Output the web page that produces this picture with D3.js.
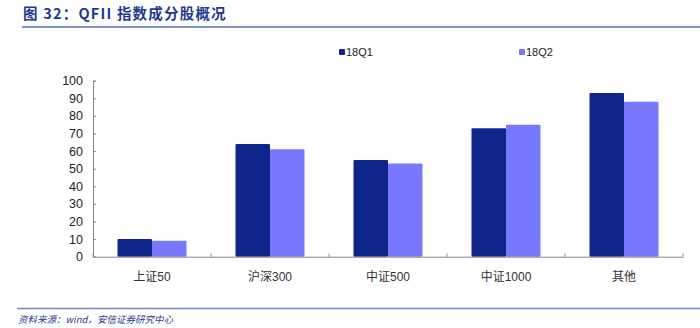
<!DOCTYPE html>
<html><head><meta charset="utf-8">
<script src="https://cdn.jsdelivr.net/npm/d3@7"></script>
<style>body{margin:0;background:#fff;} svg{display:block;}</style>
</head><body>
<script>
const categories = ["上证50","沪深300","中证500","中证1000","其他"];
const seriesNames = ["18Q1","18Q2"];
const q1Values = [10, 64, 55, 73, 93];
const q2Values = [9, 61, 53, 75, 88];
const yTicks = [0,10,20,30,40,50,60,70,80,90,100];
const colors = ["#10258c", "#7878ff"];

const W = 700, H = 328;
const svg = d3.select("body").append("svg").attr("width", W).attr("height", H);
const font = "'Liberation Sans', Arial, 'Noto Sans CJK SC', sans-serif";

// title
svg.append("text").attr("x", 23).attr("y", 18.5)
  .attr("font-family", "'Noto Sans CJK SC', sans-serif").attr("font-weight", "bold")
  .attr("font-size", 14.5).attr("letter-spacing", 1.2).attr("fill", "#1d3a8c")
  .text("图 32：QFII 指数成分股概况");
svg.append("line").attr("x1", 22).attr("x2", 700).attr("y1", 27).attr("y2", 27)
  .attr("stroke", "#5a73b5").attr("stroke-width", 1.5);

const m = {left: 93, right: 683, top: 80.7, bottom: 256.7};
const x = d3.scaleBand().domain(categories).range([m.left, m.right]);
const x1 = d3.scaleBand().domain(seriesNames).range([0, 69]);
const y = d3.scaleLinear().domain([0, 100]).range([m.bottom, m.top]);

const data = categories.map((c, i) => ({cat: c, vals: [q1Values[i], q2Values[i]]}));

const g = svg.append("g");
data.forEach(d => {
  d.vals.forEach((v, j) => {
    const bx = x(d.cat) + (x.bandwidth() - 69) / 2 + x1(seriesNames[j]);
    g.append("rect").attr("x", bx).attr("y", y(v))
      .attr("width", x1.bandwidth()).attr("height", y(0) - y(v))
      .attr("fill", colors[j]).attr("rx", 1);
  });
});

// y axis
const yAxis = d3.axisLeft(y).tickValues(yTicks).tickSize(-3).tickPadding(10);
const ya = svg.append("g").attr("transform", `translate(${m.left},0)`).call(yAxis);
ya.select(".domain").attr("stroke", "#888");
ya.selectAll(".tick line").attr("stroke", "#888");
ya.selectAll(".tick text").attr("font-family", font).attr("font-size", 12.5).attr("fill", "#222");

// x axis
const xAxis = d3.axisBottom(x).tickSize(0).tickPadding(16);
const xa = svg.append("g").attr("transform", `translate(0,${m.bottom})`).call(xAxis);
xa.select(".domain").attr("stroke", "#888");
xa.selectAll(".tick text").attr("font-family", font).attr("font-size", 12).attr("fill", "#333");
// boundary ticks
const bounds = categories.map(c => x(c)).concat([x(categories[categories.length-1]) + x.bandwidth()]);
xa.selectAll("line.bt").data(bounds).enter().append("line")
  .attr("x1", d => d).attr("x2", d => d).attr("y1", 0).attr("y2", -3).attr("stroke", "#888");

// legend
const legendX = [339, 519];
seriesNames.forEach((s, j) => {
  svg.append("rect").attr("x", legendX[j]).attr("y", 49).attr("width", 6).attr("height", 6)
    .attr("fill", colors[j]).attr("rx", 1);
  svg.append("text").attr("x", legendX[j] + 7).attr("y", 56)
    .attr("font-family", font).attr("font-size", 11).attr("fill", "#222").text(s);
});

// footer
svg.append("line").attr("x1", 17).attr("x2", 700).attr("y1", 308.5).attr("y2", 308.5)
  .attr("stroke", "#7388c0").attr("stroke-width", 1.5);
svg.append("text").attr("x", 18).attr("y", 323)
  .attr("font-family", "'Noto Sans CJK SC', sans-serif").attr("font-style", "italic")
  .attr("font-size", 9.5).attr("fill", "#2a3f8f")
  .text("资料来源：wind，安信证券研究中心");
</script>
</body></html>
